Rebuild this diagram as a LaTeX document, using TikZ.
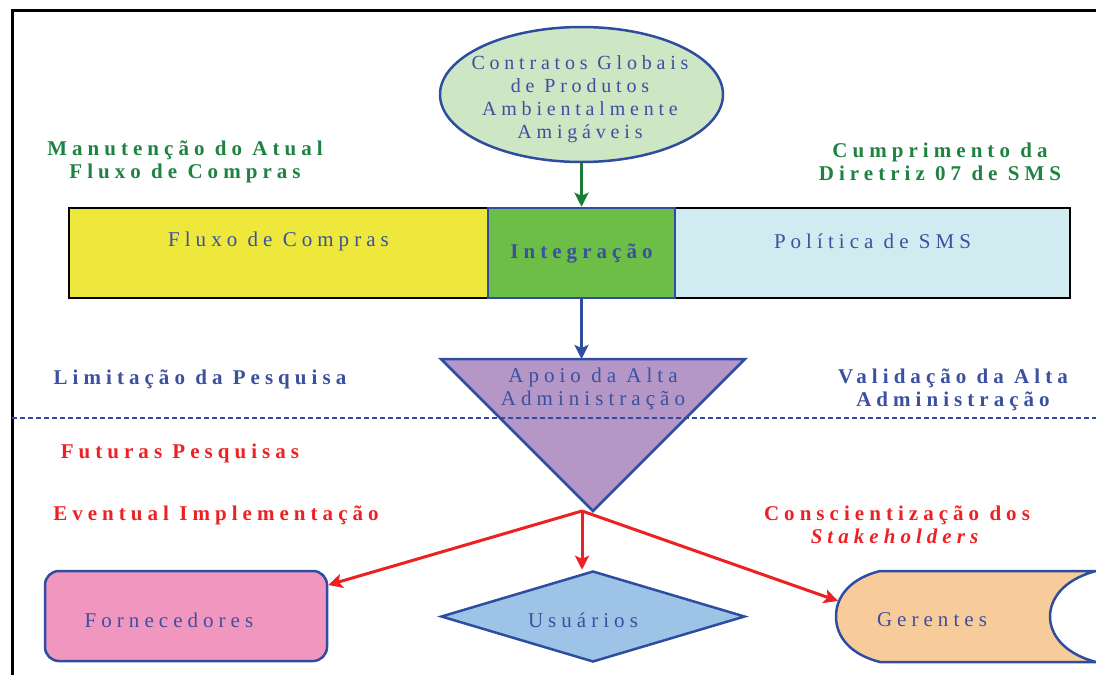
\documentclass[tikz,border=0pt]{standalone}
\usepackage{fontspec}
\setmainfont[LetterSpace=24]{Liberation Serif}
\usetikzlibrary{shapes.geometric, arrows.meta}
\definecolor{txtblue}{RGB}{59,80,160}
\definecolor{shpblue}{RGB}{46,77,160}
\definecolor{txtgreen}{RGB}{30,130,65}
\definecolor{arrgreen}{RGB}{25,125,55}
\definecolor{txtred}{RGB}{237,32,36}
\definecolor{ellfill}{RGB}{205,230,196}
\definecolor{yelfill}{RGB}{238,232,60}
\definecolor{grnfill}{RGB}{108,190,70}
\definecolor{cyafill}{RGB}{208,236,240}
\definecolor{purfill}{RGB}{180,151,198}
\definecolor{pnkfill}{RGB}{241,151,191}
\definecolor{dmdfill}{RGB}{157,195,230}
\definecolor{orgfill}{RGB}{248,203,154}

\begin{document}
\begin{tikzpicture}[x=1pt,y=-1pt]
    \tikzstyle{lbl}   = [text=txtblue, align=center, inner sep=0pt, font=\fontsize{21}{23}\selectfont]
    \tikzstyle{head}  = [lbl, font=\bfseries\fontsize{21}{23}\selectfont]
    \tikzstyle{bar}   = [rectangle, draw=black, line width=2.5pt, minimum height=90pt, inner sep=0pt]
    \tikzstyle{shp}   = [draw=shpblue, line width=2.5pt, inner sep=0pt]
    \tikzstyle{arrow} = [line width=3pt, -{Stealth[length=14pt, width=14pt, inset=3pt]}]
    \useasboundingbox (0,0) rectangle (1096,675);
    \draw[line width=3pt] (12,675) -- (12,10) -- (1096,10);
    % top of the scheme
    \node (a) [shp, ellipse, fill=ellfill, minimum width=283pt, minimum height=135pt] at (581.5,94.5) {};
    \node (a1) [lbl, font=\fontsize{20}{23}\selectfont] at (580,99.5) {Contratos Globais\\de Produtos\\Ambientalmente\\Amigáveis};
    \node (l1) [head, text=txtgreen] at (185,162) {Manutenção do Atual\\Fluxo de Compras};
    \node (l2) [head, text=txtgreen] at (940,162) {Cumprimento da\\Diretriz 07 de SMS};
    \node (b) [bar, fill=yelfill, minimum width=419pt] at (278.5,253) {};
    \node (b1) [lbl] at ([yshift=12pt]b.center) {Fluxo de Compras};
    \node (d) [bar, fill=cyafill, minimum width=395pt] at (872.5,253) {};
    \node (d1) [lbl] at ([yshift=12pt]d.center) {Política de SMS};
    \node (c) [bar, shp, fill=grnfill, minimum width=187pt, head] at (581.5,253) {Integração};
    \draw[arrow, color=arrgreen] (a.south) -- (a.south |- c.north);
    % triangle and the dashed limit
    \filldraw[shp, fill=purfill] (441,359) coordinate (e1) -- (745,359) -- (593,511) -- cycle;
    \coordinate (o) at (582,511);
    \node (e) [lbl] at (593,389) {Apoio da Alta\\Administração};
    \draw[arrow, color=shpblue] (c.south) -- (c.south |- e1);
    \draw[shpblue, line width=2.5pt, dash pattern=on 5pt off 3pt] (12,418) -- (1096,418);
    \node (l3) [head] at (200,379) {Limitação da Pesquisa};
    \node (l4) [head] at (953,389.5) {Validação da Alta\\Administração};
    \node (l5) [head, text=txtred] at (180,453) {Futuras Pesquisas};
    \node (l6) [head, text=txtred] at (216,515) {Eventual Implementação};
    \node (l7) [head, text=txtred] at (897,525) {Conscientização dos\\\textit{Stakeholders}};
    % bottom shapes
    \node (f) [shp, rectangle, rounded corners=14pt, fill=pnkfill, minimum width=282pt, minimum height=90pt] at (186,616) {};
    \node (f1) [lbl] at (169,620) {Fornecedores};
    \node (g) [shp, diamond, fill=dmdfill, minimum width=304pt, minimum height=91pt] at (593,616.5) {};
    \node (g1) [lbl] at (583,620) {Usuários};
    \filldraw[shp, fill=orgfill] (880,571) -- (1096,571)
        .. controls (1062,580) and (1050,600) .. (1050,616.5)
        .. controls (1050,633) and (1062,653) .. (1096,662) -- (880,662)
        .. controls (852,655) and (836,638) .. (836,616.5)
        .. controls (836,595) and (852,578) .. (880,571) -- cycle;
    \node (h) [lbl] at (932,620) {Gerentes};
    \coordinate (h1) at (838,601);
    \draw[arrow, color=txtred] (o) -- ([yshift=31pt]f.east);
    \draw[arrow, color=txtred] (o) -- (o |- g.north);
    \draw[arrow, color=txtred] (o) -- (h1);
\end{tikzpicture}
\end{document}
